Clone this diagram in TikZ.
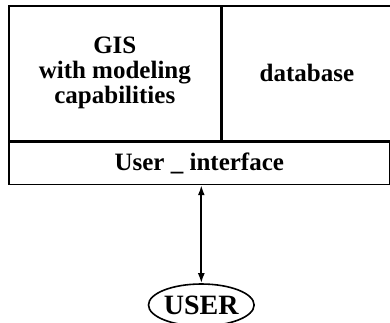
\documentclass[tikz,border=0pt]{standalone}
\usepackage{fontspec}
\setmainfont{Liberation Serif}
\usetikzlibrary{shapes.geometric, arrows.meta, positioning}

\begin{document}
\begin{tikzpicture}[
  x=1pt, y=1pt,
  node distance=98pt,
  box/.style={rectangle, draw, line width=1.6pt, inner sep=0pt, align=center, font=\bfseries\fontsize{25}{25}\selectfont},
  arr/.style={{Latex[length=10pt,width=7pt]}-{Latex[length=10pt,width=7pt]}, line width=1.8pt}
]
\useasboundingbox (0,0) rectangle (390,-323);
\node[box, minimum width=212pt, minimum height=135pt, anchor=north west] (gis) at (8,-5) {GIS\\with modeling\\capabilities};
\node[box, minimum width=169pt, minimum height=135pt, anchor=west] (db) at (gis.east) {database};
\node[box, minimum width=381pt, minimum height=42pt, anchor=north west] (ui) at (gis.south west) {User \_ interface};
\node[ellipse, draw, line width=1.6pt, inner sep=0pt, minimum width=94pt, minimum height=42pt, font=\bfseries\fontsize{28}{30}\selectfont, below=of ui.south, anchor=north, xshift=2pt] (user) {USER};
\draw[arr] (ui.south -| user.north) -- (user.north);
\end{tikzpicture}
\end{document}
